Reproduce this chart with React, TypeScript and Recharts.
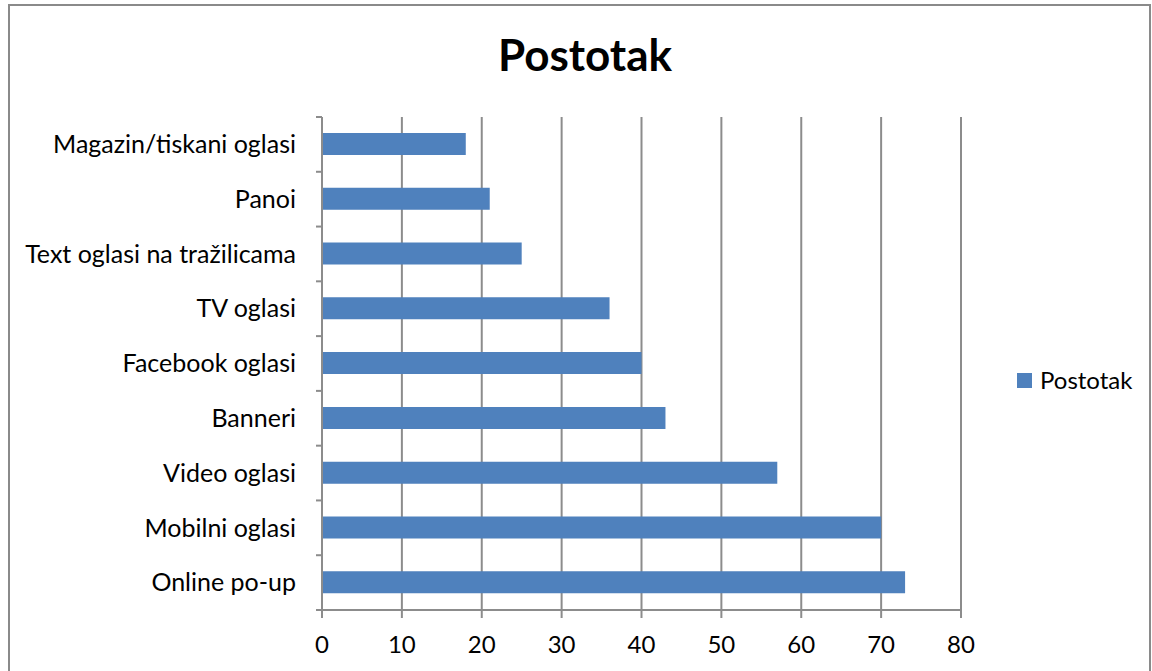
import { BarChart, Bar, XAxis, YAxis, CartesianGrid } from "recharts";

const categories = [
  "Magazin/tiskani oglasi",
  "Panoi",
  "Text oglasi na tražilicama",
  "TV oglasi",
  "Facebook oglasi",
  "Banneri",
  "Video oglasi",
  "Mobilni oglasi",
  "Online po-up",
];
const values = [18, 21, 25, 36, 40, 43, 57, 70, 73];
const xTicks = [0, 10, 20, 30, 40, 50, 60, 70, 80];
const seriesName = "Postotak";

const data = categories.map((name, i) => ({ name, value: values[i] }));

const BAR = "#4F81BD";
const GRID = "#8c8c8c";
const FONT = "Lato, 'Open Sans', sans-serif";

// category label + Excel-style tick marks sitting on the band edges
function CategoryTick(props: any) {
  const { x, y, payload, index } = props;
  const half = payload?.offset ?? 27.4;
  const lx = x + 20;
  return (
    <g>
      <text x={x} y={y} dy="0.35em" textAnchor="end" fontSize={25} fill="#000" fontFamily={FONT}>
        {payload.value}
      </text>
      {index === 0 && (
        <line x1={lx} x2={lx + 6} y1={y - half} y2={y - half} stroke={GRID} strokeWidth={2} />
      )}
      <line x1={lx} x2={lx + 6} y1={y + half} y2={y + half} stroke={GRID} strokeWidth={2} />
    </g>
  );
}

export default function App() {
  return (
    <div
      style={{
        position: "absolute",
        left: 0,
        top: 0,
        width: 1152,
        height: 671,
        overflow: "hidden",
        background: "#fff",
      }}
    >
      <div
        style={{
          position: "absolute",
          left: 8,
          top: 4,
          width: 1139,
          height: 700,
          border: "2px solid #8a8a8a",
        }}
      />
      <div
        style={{
          position: "absolute",
          left: 485,
          top: 32,
          width: 200,
          textAlign: "center",
          fontFamily: FONT,
          fontWeight: "bold",
          fontSize: 44,
          lineHeight: "44px",
          color: "#000",
        }}
      >
        {seriesName}
      </div>
      {/* legend */}
      <div
        style={{
          position: "absolute",
          left: 1017,
          top: 368,
          display: "flex",
          alignItems: "center",
          fontFamily: FONT,
          fontSize: 24,
          lineHeight: "24px",
          color: "#000",
          whiteSpace: "nowrap",
        }}
      >
        <span style={{ display: "inline-block", width: 15, height: 15, background: BAR, marginRight: 8 }} />
        {seriesName}
      </div>
      <div style={{ position: "absolute", left: 0, top: 0 }}>
        <BarChart
          width={1152}
          height={671}
          data={data}
          layout="vertical"
          margin={{ top: 117, right: 191, bottom: 0, left: 0 }}
          barSize={22}
        >
          <CartesianGrid horizontal={false} stroke={GRID} strokeWidth={2} />
          <XAxis
            type="number"
            domain={[0, 80]}
            ticks={xTicks}
            interval={0}
            height={61}
            tickSize={8}
            tickMargin={18}
            axisLine={{ stroke: GRID, strokeWidth: 2 }}
            tickLine={{ stroke: GRID, strokeWidth: 2 }}
            tick={{ fontSize: 24, fill: "#000", fontFamily: FONT }}
          />
          <YAxis
            type="category"
            dataKey="name"
            width={322}
            interval={0}
            tickSize={6}
            tickMargin={20}
            axisLine={{ stroke: GRID, strokeWidth: 2 }}
            tickLine={{ stroke: "none" }}
            tick={<CategoryTick />}
          />
          <Bar dataKey="value" name={seriesName} fill={BAR} isAnimationActive={false} />
        </BarChart>
      </div>
    </div>
  );
}
